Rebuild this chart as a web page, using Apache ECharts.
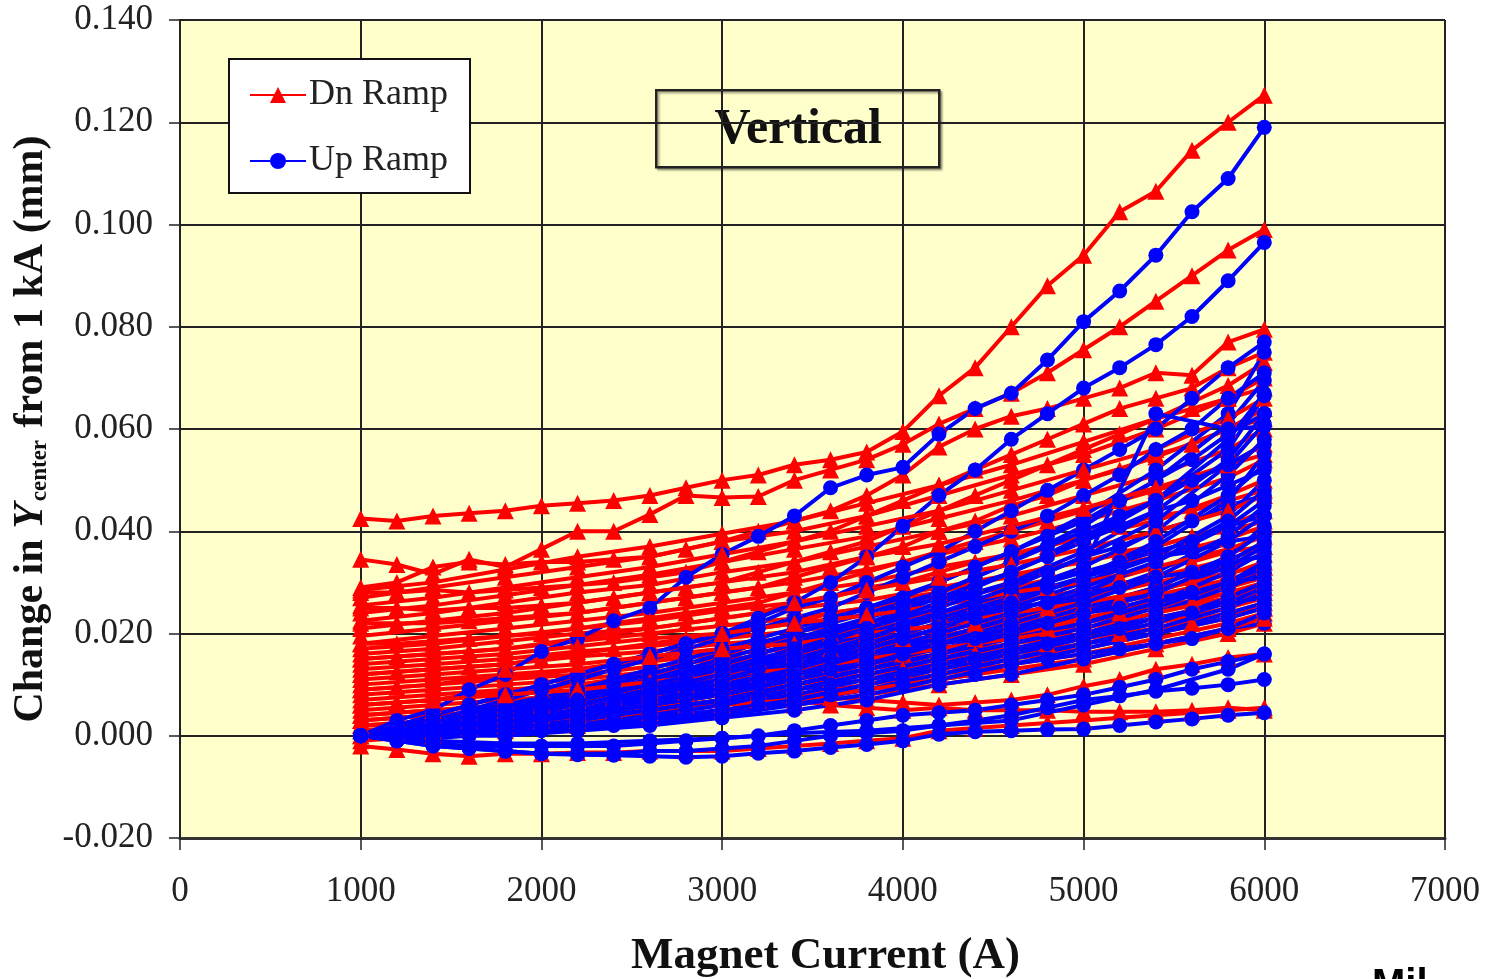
<!DOCTYPE html>
<html>
<head>
<meta charset="utf-8">
<script src="https://cdn.jsdelivr.net/npm/echarts@6/dist/echarts.min.js"></script>
<style>
html,body{margin:0;padding:0;background:#fff;}
#chart{width:1486px;height:979px;}
</style>
</head>
<body>
<div id="chart"></div>
<script>
// Magnet current sample points (A)
const currentFine = [1000,1200,1400,1600,1800,2000,2200,2400,2600,2800,3000,3200,3400,3600,3800,4000,4200,4400,4600,4800,5000,5200,5400,5600,5800,6000];
const currentCoarse = [1000,1400,1800,2200,2600,3000,3400,3800,4200,4600,5000,5400,5800,6000];

// Dn Ramp runs sampled every 200 A (mm)
const dnRampFine = [
  [0.0425,0.042,0.043,0.0435,0.044,0.045,0.0455,0.046,0.047,0.0485,0.050,0.051,0.053,0.054,0.0555,0.0595,0.0665,0.072,0.080,0.088,0.094,0.1025,0.1065,0.1145,0.120,0.1253],
  [0.0345,0.0335,0.0316,0.0345,0.033,0.0365,0.040,0.040,0.0433,0.047,0.0466,0.0468,0.050,0.052,0.054,0.057,0.061,0.064,0.067,0.071,0.0755,0.080,0.085,0.090,0.095,0.099],
  [0.029,0.030,0.033,0.034,0.0335,0.034,0.034,0.0345,0.035,0.0365,0.038,0.040,0.042,0.044,0.047,0.051,0.0565,0.060,0.0625,0.064,0.066,0.068,0.071,0.0705,0.077,0.0795],
  [0.028,0.028,0.0285,0.028,0.0285,0.029,0.0295,0.030,0.031,0.032,0.034,0.036,0.038,0.040,0.043,0.046,0.049,0.052,0.055,0.058,0.061,0.064,0.066,0.068,0.072,0.075],
  [0.025,0.025,0.0245,0.025,0.025,0.0255,0.026,0.027,0.028,0.029,0.030,0.032,0.034,0.036,0.038,0.041,0.044,0.047,0.050,0.053,0.056,0.059,0.062,0.064,0.066,0.068],
  [0.022,0.022,0.022,0.0225,0.023,0.0235,0.024,0.025,0.026,0.027,0.028,0.029,0.031,0.033,0.035,0.037,0.040,0.042,0.045,0.047,0.050,0.052,0.055,0.057,0.060,0.062],
  [0.018,0.018,0.0185,0.019,0.0195,0.020,0.021,0.022,0.023,0.024,0.025,0.026,0.028,0.030,0.032,0.034,0.036,0.038,0.040,0.042,0.044,0.046,0.048,0.050,0.053,0.055],
  [0.015,0.0155,0.016,0.0165,0.017,0.018,0.019,0.020,0.021,0.022,0.023,0.024,0.026,0.027,0.029,0.030,0.032,0.034,0.035,0.037,0.039,0.041,0.043,0.044,0.046,0.048],
  [0.012,0.0125,0.013,0.0135,0.014,0.015,0.016,0.017,0.018,0.019,0.020,0.021,0.022,0.024,0.025,0.027,0.028,0.030,0.031,0.033,0.034,0.036,0.037,0.039,0.040,0.042],
  [0.009,0.0095,0.010,0.011,0.0115,0.012,0.013,0.014,0.015,0.016,0.017,0.018,0.019,0.020,0.022,0.023,0.024,0.026,0.027,0.029,0.030,0.031,0.033,0.034,0.036,0.037],
  [0.006,0.0065,0.007,0.008,0.0085,0.009,0.010,0.011,0.012,0.013,0.014,0.015,0.016,0.017,0.018,0.019,0.021,0.022,0.023,0.025,0.026,0.027,0.029,0.030,0.032,0.033],
  [0.003,0.0035,0.004,0.0045,0.005,0.006,0.007,0.008,0.009,0.010,0.011,0.012,0.013,0.014,0.015,0.016,0.018,0.019,0.020,0.021,0.023,0.024,0.025,0.026,0.028,0.029],
  [0,0.0005,0.001,0.0015,0.002,0.003,0.004,0.005,0.006,0.007,0.008,0.009,0.010,0.011,0.012,0.013,0.014,0.016,0.017,0.018,0.019,0.020,0.021,0.022,0.024,0.025],
  [-0.002,-0.0027,-0.0035,-0.004,-0.0035,-0.0035,-0.0033,-0.0033,-0.003,-0.003,-0.003,-0.0025,-0.002,-0.0015,-0.001,-0.0005,0.001,0.0015,0.002,0.0025,0.003,0.0035,0.004,0.0045,0.005,0.0055],
  [0.002,0.002,0.0025,0.003,0.0035,0.004,0.0045,0.005,0.0055,0.006,0.0065,0.007,0.007,0.006,0.0055,0.005,0.0055,0.005,0.005,0.005,0.0047,0.0047,0.0047,0.005,0.0055,0.005],
  [0.004,0.0045,0.005,0.0055,0.006,0.0065,0.007,0.0075,0.008,0.0085,0.009,0.0085,0.008,0.0075,0.007,0.0065,0.006,0.0065,0.007,0.008,0.0097,0.011,0.013,0.014,0.0153,0.016]
];

// Dn Ramp runs sampled every 400 A (mm)
const dnRampCoarse = [
  [0.0285,0.030,0.0325,0.035,0.037,0.0395,0.042,0.0455,0.049,0.053,0.0575,0.062,0.0685,0.073],
  [0.027,0.029,0.031,0.033,0.035,0.038,0.040,0.043,0.047,0.051,0.055,0.060,0.066,0.070],
  [0.0255,0.027,0.029,0.031,0.033,0.0355,0.038,0.041,0.044,0.048,0.052,0.056,0.062,0.066],
  [0.024,0.0255,0.0275,0.0295,0.0315,0.034,0.0365,0.039,0.0425,0.046,0.050,0.0545,0.060,0.064],
  [0.0225,0.024,0.026,0.028,0.0295,0.032,0.034,0.037,0.040,0.043,0.047,0.051,0.056,0.060],
  [0.021,0.0225,0.024,0.026,0.028,0.030,0.032,0.035,0.0375,0.041,0.0445,0.0485,0.053,0.057],
  [0.0195,0.021,0.0225,0.024,0.026,0.028,0.030,0.0325,0.0355,0.0385,0.042,0.046,0.0505,0.054],
  [0.018,0.0195,0.021,0.0225,0.024,0.026,0.028,0.030,0.033,0.0355,0.039,0.042,0.047,0.050],
  [0.017,0.018,0.0195,0.021,0.0225,0.0245,0.026,0.0285,0.031,0.0335,0.0365,0.040,0.044,0.047],
  [0.016,0.017,0.0185,0.020,0.021,0.023,0.025,0.0265,0.029,0.0315,0.034,0.037,0.041,0.044],
  [0.015,0.016,0.017,0.0185,0.020,0.0215,0.023,0.025,0.027,0.029,0.032,0.035,0.0385,0.041],
  [0.014,0.015,0.016,0.0175,0.019,0.020,0.022,0.0235,0.0255,0.028,0.030,0.033,0.0365,0.039],
  [0.013,0.014,0.015,0.0165,0.0175,0.019,0.0205,0.022,0.024,0.026,0.0285,0.031,0.0345,0.037],
  [0.012,0.013,0.014,0.0155,0.0165,0.018,0.019,0.021,0.023,0.025,0.027,0.030,0.033,0.0355],
  [0.011,0.012,0.013,0.014,0.0155,0.017,0.018,0.020,0.0215,0.024,0.026,0.0285,0.0315,0.034],
  [0.010,0.011,0.012,0.013,0.0145,0.016,0.017,0.019,0.0205,0.023,0.025,0.0275,0.0305,0.033],
  [0.009,0.010,0.011,0.012,0.0135,0.015,0.016,0.018,0.0195,0.022,0.024,0.0265,0.030,0.032],
  [0.008,0.009,0.010,0.011,0.0125,0.014,0.015,0.017,0.019,0.021,0.023,0.026,0.029,0.031],
  [0.007,0.008,0.009,0.010,0.0115,0.013,0.014,0.016,0.018,0.020,0.022,0.025,0.028,0.030],
  [0.006,0.007,0.008,0.009,0.0105,0.012,0.013,0.015,0.017,0.019,0.021,0.024,0.027,0.029],
  [0.005,0.006,0.007,0.008,0.0095,0.011,0.012,0.014,0.016,0.018,0.020,0.023,0.026,0.028],
  [0.004,0.005,0.006,0.007,0.0085,0.010,0.011,0.013,0.015,0.017,0.019,0.022,0.025,0.027],
  [0.003,0.004,0.005,0.006,0.0075,0.009,0.010,0.012,0.014,0.016,0.018,0.021,0.024,0.026],
  [0.002,0.003,0.004,0.005,0.0065,0.008,0.009,0.011,0.013,0.015,0.017,0.020,0.023,0.025],
  [0.001,0.002,0.003,0.004,0.0055,0.007,0.008,0.010,0.012,0.014,0.016,0.019,0.022,0.024],
  [0,0.001,0.002,0.003,0.0045,0.006,0.007,0.009,0.011,0.013,0.015,0.018,0.021,0.023],
  [-0.001,0,0.001,0.002,0.0035,0.005,0.006,0.008,0.010,0.012,0.014,0.017,0.020,0.022]
];

// Up Ramp runs sampled every 200 A (mm)
const upRampFine = [
  [0,0.003,0.005,0.009,0.012,0.0165,0.019,0.0225,0.025,0.031,0.0355,0.039,0.043,0.0485,0.051,0.0525,0.059,0.064,0.067,0.0735,0.081,0.087,0.094,0.1025,0.109,0.119],
  [0,0.002,0.004,0.006,0.008,0.010,0.012,0.014,0.016,0.018,0.020,0.023,0.026,0.030,0.035,0.041,0.047,0.052,0.058,0.063,0.068,0.072,0.0765,0.082,0.089,0.0965],
  [0,0.002,0.004,0.006,0.008,0.010,0.012,0.014,0.016,0.018,0.020,0.022,0.025,0.027,0.030,0.033,0.036,0.040,0.044,0.048,0.052,0.056,0.060,0.066,0.072,0.077],
  [0,0.0015,0.003,0.005,0.007,0.009,0.011,0.013,0.015,0.017,0.019,0.021,0.023,0.025,0.028,0.031,0.034,0.037,0.040,0.043,0.047,0.051,0.056,0.060,0.066,0.071],
  [0,0.001,0.0025,0.004,0.0055,0.007,0.009,0.011,0.013,0.015,0.017,0.019,0.021,0.023,0.025,0.027,0.030,0.033,0.036,0.039,0.042,0.046,0.050,0.054,0.059,0.063],
  [0,0.001,0.002,0.0035,0.005,0.0065,0.008,0.010,0.012,0.014,0.016,0.018,0.020,0.022,0.024,0.026,0.028,0.031,0.034,0.037,0.040,0.043,0.046,0.050,0.053,0.057],
  [0,0.001,0.002,0.003,0.0045,0.006,0.0075,0.009,0.011,0.013,0.015,0.017,0.019,0.021,0.023,0.025,0.027,0.029,0.032,0.035,0.038,0.041,0.044,0.046,0.049,0.052],
  [0,0.001,0.002,0.003,0.004,0.0055,0.007,0.0085,0.010,0.012,0.014,0.016,0.018,0.020,0.022,0.024,0.026,0.028,0.030,0.032,0.035,0.037,0.040,0.042,0.045,0.047],
  [0,0.0005,0.0015,0.0025,0.0035,0.005,0.006,0.0075,0.009,0.011,0.012,0.014,0.016,0.018,0.020,0.022,0.024,0.026,0.028,0.030,0.032,0.034,0.036,0.038,0.041,0.043],
  [0,0.0005,0.001,0.002,0.003,0.004,0.005,0.0065,0.008,0.0095,0.011,0.013,0.015,0.017,0.019,0.021,0.023,0.025,0.027,0.029,0.031,0.033,0.035,0.036,0.038,0.039],
  [0,0.0005,0.001,0.0015,0.0025,0.0035,0.0045,0.0055,0.007,0.008,0.0095,0.011,0.013,0.015,0.017,0.019,0.021,0.023,0.025,0.026,0.028,0.029,0.031,0.032,0.034,0.035],
  [0,0,0.0005,0.001,0.002,0.003,0.004,0.005,0.006,0.0075,0.009,0.010,0.012,0.013,0.015,0.016,0.018,0.019,0.021,0.022,0.024,0.025,0.027,0.028,0.030,0.031],
  [0,0,0,0.0005,0.001,0.0015,0.0025,0.0035,0.0045,0.0055,0.0065,0.0075,0.009,0.010,0.011,0.012,0.014,0.015,0.017,0.018,0.020,0.021,0.023,0.024,0.026,0.027],
  [0,-0.0005,-0.0005,0,0.0005,0.001,0.0015,0.002,0.003,0.004,0.005,0.006,0.007,0.008,0.009,0.010,0.011,0.012,0.014,0.015,0.016,0.017,0.018,0.019,0.021,0.022],
  [0,-0.001,-0.0015,-0.002,-0.002,-0.002,-0.002,-0.002,-0.0015,-0.001,-0.0005,0,0.001,0.002,0.003,0.004,0.0045,0.005,0.006,0.007,0.008,0.0095,0.011,0.013,0.0145,0.016],
  [0,-0.001,-0.002,-0.0025,-0.003,-0.0035,-0.0035,-0.0035,-0.003,-0.003,-0.0025,-0.002,-0.001,0,0.0005,0.001,0.002,0.003,0.004,0.0055,0.007,0.0078,0.0087,0.0093,0.010,0.011],
  [0,-0.001,-0.002,-0.0025,-0.003,-0.0035,-0.0037,-0.0038,-0.004,-0.0042,-0.004,-0.0034,-0.003,-0.0023,-0.0017,-0.001,0.0003,0.0008,0.001,0.0012,0.0013,0.002,0.0027,0.0033,0.004,0.0045]
];

// Up Ramp runs sampled every 400 A (mm)
const upRampCoarse = [
  [0,0.003,0.006,0.009,0.012,0.016,0.020,0.025,0.030,0.036,0.043,0.052,0.063,0.075],
  [0,0.002,0.004,0.007,0.010,0.014,0.018,0.023,0.028,0.034,0.041,0.050,0.061,0.0695],
  [0,0.002,0.005,0.008,0.011,0.014,0.018,0.022,0.027,0.032,0.039,0.046,0.056,0.0665],
  [0,0.002,0.004,0.007,0.010,0.013,0.016,0.020,0.024,0.028,0.033,0.063,0.060,0.0605],
  [0,0.001,0.003,0.005,0.008,0.011,0.014,0.018,0.022,0.027,0.033,0.040,0.051,0.058],
  [0,0.002,0.004,0.006,0.009,0.012,0.015,0.018,0.022,0.026,0.031,0.037,0.046,0.055],
  [0,0.0015,0.0035,0.006,0.0085,0.011,0.014,0.017,0.021,0.025,0.030,0.035,0.043,0.050],
  [0,0.001,0.002,0.004,0.006,0.009,0.012,0.015,0.019,0.023,0.028,0.034,0.042,0.048],
  [0,0.0015,0.003,0.005,0.008,0.010,0.013,0.016,0.019,0.023,0.027,0.032,0.039,0.045],
  [0,0.001,0.003,0.005,0.007,0.009,0.012,0.015,0.018,0.021,0.025,0.029,0.035,0.041],
  [0,0.001,0.002,0.0035,0.005,0.007,0.010,0.013,0.016,0.020,0.024,0.029,0.035,0.040],
  [0,0.001,0.002,0.004,0.006,0.008,0.011,0.014,0.017,0.020,0.024,0.028,0.033,0.037],
  [0,0.0005,0.0015,0.003,0.0045,0.0065,0.009,0.012,0.015,0.018,0.022,0.026,0.032,0.036],
  [0,0.001,0.002,0.003,0.005,0.007,0.010,0.013,0.016,0.019,0.022,0.026,0.030,0.033],
  [0,0.0005,0.001,0.002,0.0035,0.005,0.007,0.010,0.013,0.016,0.020,0.024,0.029,0.032],
  [0,0.0005,0.0015,0.0025,0.004,0.006,0.008,0.011,0.014,0.017,0.020,0.023,0.026,0.029],
  [0,0,0.0005,0.0015,0.003,0.0045,0.0065,0.009,0.012,0.015,0.018,0.021,0.025,0.028],
  [0,0,0.001,0.002,0.003,0.005,0.007,0.009,0.012,0.015,0.018,0.020,0.023,0.025],
  [0,0,0,0.001,0.002,0.0035,0.005,0.007,0.010,0.012,0.015,0.018,0.021,0.024],
  [0,-0.001,-0.0015,-0.0015,-0.001,-0.0005,0.0005,0.001,0.002,0.003,0.006,0.009,0.013,0.016],
  [0,0.002,0.004,0.006,0.009,0.012,0.016,0.021,0.026,0.032,0.038,0.046,0.058,0.067],
  [0,0.0015,0.003,0.005,0.008,0.011,0.015,0.019,0.024,0.029,0.035,0.042,0.053,0.061],
  [0,0.001,0.003,0.005,0.007,0.010,0.013,0.017,0.021,0.026,0.031,0.038,0.047,0.053],
  [0,0.001,0.002,0.004,0.006,0.009,0.012,0.016,0.020,0.024,0.029,0.034,0.041,0.046],
  [0,0.001,0.002,0.004,0.006,0.008,0.011,0.014,0.018,0.022,0.026,0.031,0.038,0.043],
  [0,0.0005,0.0015,0.003,0.005,0.007,0.010,0.013,0.016,0.020,0.024,0.028,0.034,0.038],
  [0,0.0005,0.001,0.002,0.004,0.006,0.009,0.012,0.015,0.018,0.021,0.025,0.030,0.034],
  [0,0,0.001,0.002,0.0035,0.005,0.007,0.010,0.013,0.016,0.019,0.022,0.027,0.030],
  [0,0,0.0005,0.0015,0.0025,0.004,0.006,0.008,0.011,0.014,0.017,0.020,0.024,0.026],
  [0,0.002,0.004,0.007,0.010,0.013,0.017,0.021,0.025,0.030,0.036,0.044,0.054,0.063]
];

const SERIF = '"Liberation Serif","Times New Roman",serif';
const RED = '#ff0000', BLUE = '#0000ff';

function makeSeries(name, xs, ys, color, symbol, size) {
  return {
    name: name, type: 'line', symbol: symbol, symbolSize: size,
    showAllSymbol: true, animation: false, clip: true,
    lineStyle: { color: color, width: 4 },
    itemStyle: { color: color, borderWidth: 0 },
    emphasis: { disabled: true },
    data: ys.map(function (v, i) { return [xs[i], v]; })
  };
}

const redList = [];
const blueList = [];
const nr = Math.max(dnRampFine.length, dnRampCoarse.length);
for (let i = 0; i < nr; i++) {
  if (dnRampFine[i]) redList.push(makeSeries('Dn Ramp', currentFine, dnRampFine[i], RED, 'triangle', 17));
  if (dnRampCoarse[i]) redList.push(makeSeries('Dn Ramp', currentCoarse, dnRampCoarse[i], RED, 'triangle', 17));
}
const nb = Math.max(upRampFine.length, upRampCoarse.length);
for (let i = 0; i < nb; i++) {
  if (upRampFine[i]) blueList.push(makeSeries('Up Ramp', currentFine, upRampFine[i], BLUE, 'circle', 15));
  if (upRampCoarse[i]) blueList.push(makeSeries('Up Ramp', currentCoarse, upRampCoarse[i], BLUE, 'circle', 15));
}
// red runs drawn first, blue runs on top, a few red runs re-interleaved
const series = [];
redList.forEach(function (s, i) { if (i % 6 !== 5) series.push(s); });
blueList.forEach(function (s, i) {
  series.push(s);
  if (i % 5 === 4) {
    const k = (i + 1) / 5 * 6 - 1;
    if (redList[k]) series.push(redList[k]);
  }
});
redList.forEach(function (s, i) { if (i % 6 === 5 && series.indexOf(s) < 0) series.push(s); });

const chart = echarts.init(document.getElementById('chart'), null, { renderer: 'canvas' });
chart.setOption({
  backgroundColor: '#ffffff',
  animation: false,
  grid: { left: 180, right: 41, top: 20, bottom: 141, show: true, backgroundColor: '#ffffcc', borderWidth: 0, outerBoundsMode: 'none', containLabel: false },
  legend: {
    data: ['Dn Ramp', 'Up Ramp'],
    orient: 'vertical', left: 229, top: 59,
    backgroundColor: '#ffffff', borderColor: '#111', borderWidth: 2,
    padding: [18, 22, 14, 20], itemGap: 30, itemWidth: 56, itemHeight: 20,
    selectedMode: false,
    textStyle: { fontFamily: SERIF, fontSize: 36, color: '#222', padding: [0, 0, 0, -2] }
  },
  xAxis: {
    type: 'value', min: 0, max: 7000, interval: 1000,
    name: 'Magnet Current (A)', nameLocation: 'middle', nameGap: 96,
    nameTextStyle: { fontFamily: SERIF, fontSize: 45, fontWeight: 'bold', color: '#111', padding: [0, 0, 0, 26] },
    axisLine: { show: true, onZero: false, lineStyle: { color: '#333', width: 3 } },
    axisTick: { show: true, inside: false, length: 12, lineStyle: { color: '#222', width: 1.5 } },
    axisLabel: { fontFamily: SERIF, fontSize: 35, color: '#222', margin: 36,
      formatter: function (v) { return String(v); } },
    splitLine: { show: true, lineStyle: { color: '#222', width: 2 } }
  },
  yAxis: {
    type: 'value', min: -0.02, max: 0.14, interval: 0.02,
    name: '{a|Change in }{b|Y}{c|center}{a| from 1 kA (mm)}',
    nameLocation: 'middle', nameGap: 124, nameRotate: 90,
    nameTextStyle: {
      rich: {
        a: { fontFamily: SERIF, fontSize: 42, fontWeight: 'bold', color: '#111' },
        b: { fontFamily: SERIF, fontSize: 42, fontWeight: 'bold', fontStyle: 'italic', color: '#111' },
        c: { fontFamily: SERIF, fontSize: 23, fontWeight: 'bold', color: '#111', verticalAlign: 'bottom', padding: [16, 2, 0, 2] }
      }
    },
    axisLine: { show: true, lineStyle: { color: '#222', width: 2 } },
    axisTick: { show: true, inside: false, length: 11, lineStyle: { color: '#222', width: 1.5 } },
    axisLabel: {
      fontFamily: SERIF, fontSize: 35, color: '#222', margin: 27,
      formatter: function (v) { return v.toFixed(3); }
    },
    splitLine: { show: true, lineStyle: { color: '#222', width: 2 } }
  },
  graphic: [
    {
      type: 'group', left: 655, top: 89, z: 100,
      children: [
        { type: 'rect', shape: { x: 0, y: 0, width: 283, height: 77 },
          style: { fill: '#ffffcc', stroke: '#222', lineWidth: 2.5, shadowColor: 'rgba(0,0,0,0.35)', shadowOffsetX: 2, shadowOffsetY: 2, shadowBlur: 2 } },
        { type: 'text', x: 142, y: 40,
          style: { text: 'Vertical', fontFamily: SERIF, fontSize: 50, fontWeight: 'bold', fill: '#111', align: 'center', verticalAlign: 'middle' } }
      ]
    },
    {
      type: 'text', left: 1372, top: 966, z: 100,
      style: { text: 'Mil', fontFamily: '"Liberation Sans", Arial, sans-serif', fontSize: 40, fontWeight: 'bold', fill: '#000' }
    }
  ],
  series: series
});
</script>
</body>
</html>
